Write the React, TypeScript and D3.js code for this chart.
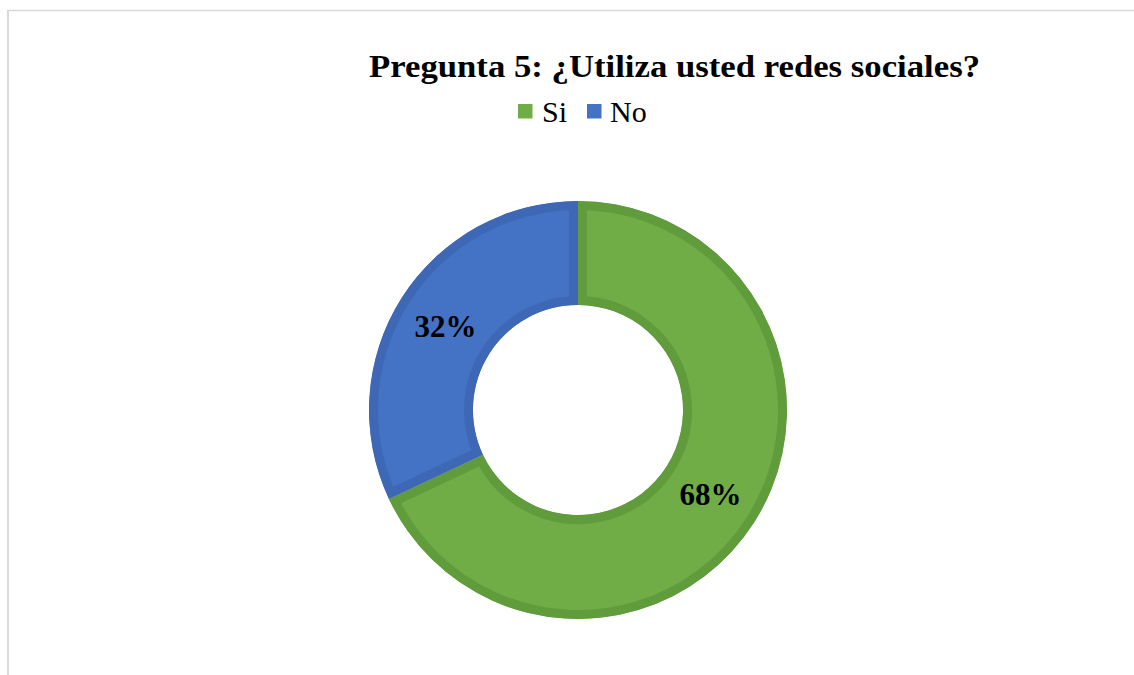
import React from "react";
import * as d3 from "d3";

const categories = ["Si", "No"];
const values = [68, 32];
const labels = ["68%", "32%"];
const fills = ["#70AD47", "#4472C4"];
const borders = ["#609C3C", "#3E68B6"];
const title = "Pregunta 5: ¿Utiliza usted redes sociales?";

const W = 1134;
const H = 675;
const cx = 578;
const cy = 410;
const outerR = 209;
const innerR = 105;
const serif = "'Liberation Serif', 'Times New Roman', serif";

export default function App() {
  const pie = d3.pie<number>().sort(null).value((d) => d)(values);
  const arc = d3.arc<d3.PieArcDatum<number>>().innerRadius(innerR).outerRadius(outerR);

  const legendItems = [
    { x: 518, tx: 542 },
    { x: 587, tx: 610 },
  ];

  return (
    <svg width={W} height={H} style={{ position: "absolute", left: 0, top: 0, background: "#fff" }}>
      <line x1={7} y1={10.5} x2={W} y2={10.5} stroke="#d9d9d9" strokeWidth={1.5} />
      <line x1={8} y1={10} x2={8} y2={H} stroke="#d9d9d9" strokeWidth={2} />
      <text
        x={369}
        y={77}
        fontFamily={serif}
        fontWeight="bold"
        fontSize={32}
        fill="#000"
        textLength={611}
        lengthAdjust="spacingAndGlyphs"
      >
        {title}
      </text>
      {categories.map((c, i) => (
        <g key={c}>
          <rect x={legendItems[i].x} y={104} width={14.5} height={14.5} fill={fills[i]} />
          <text x={legendItems[i].tx} y={122} fontFamily={serif} fontSize={30} fill="#000">
            {c}
          </text>
        </g>
      ))}
      <defs>
        {pie.map((p, i) => (
          <clipPath id={`clip${i}`} key={i}>
            <path d={arc(p) || ""} />
          </clipPath>
        ))}
      </defs>
      <g transform={`translate(${cx},${cy})`}>
        {pie.map((p, i) => (
          <path
            key={i}
            d={arc(p) || ""}
            fill={fills[i]}
            stroke={borders[i]}
            strokeWidth={18}
            clipPath={`url(#clip${i})`}
          />
        ))}
        {pie.map((p, i) => {
          const [x, y] = arc.centroid(p);
          return (
            <text
              key={i}
              x={x}
              y={y}
              dy="0.35em"
              textAnchor="middle"
              fontFamily={serif}
              fontWeight="bold"
              fontSize={31}
              fill="#000"
            >
              {labels[i]}
            </text>
          );
        })}
      </g>
    </svg>
  );
}
